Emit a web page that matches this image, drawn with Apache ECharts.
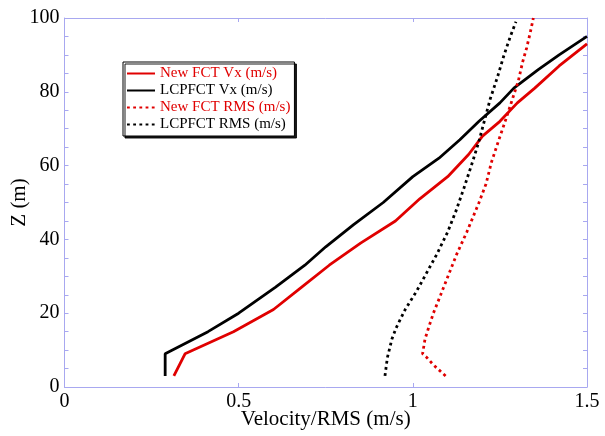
<!DOCTYPE html>
<html>
<head>
<meta charset="utf-8">
<script src="https://cdn.jsdelivr.net/npm/echarts@6/dist/echarts.min.js"></script>
<style>
  html, body { margin: 0; padding: 0; background: #fff; }
  #chart { width: 605px; height: 436px; }
</style>
</head>
<body>
<div id="chart"></div>
<script>
// Vertical profiles: height Z (m) against velocity / RMS (m/s)
const seriesNames = ['New FCT Vx (m/s)', 'LCPFCT Vx (m/s)', 'New FCT RMS (m/s)', 'LCPFCT RMS (m/s)'];

const newFctVxZ = [3, 9, 15, 21, 27, 33, 39, 45, 51, 57, 63, 68, 72, 77, 81, 87, 93];
const newFctVx  = [0.314, 0.346, 0.485, 0.60, 0.68, 0.76, 0.85, 0.95, 1.02, 1.10, 1.16, 1.20, 1.25, 1.30, 1.35, 1.42, 1.50];

const lcpVxZ = [3, 9, 15, 20, 27, 33, 38, 44, 50, 57, 62, 67, 72, 77, 81, 86, 90, 95];
const lcpVx  = [0.289, 0.289, 0.412, 0.50, 0.605, 0.69, 0.75, 0.83, 0.915, 1.00, 1.075, 1.135, 1.19, 1.25, 1.29, 1.36, 1.42, 1.50];

const newFctRmsZ = [3, 6, 8, 9, 13, 16, 20, 25, 31, 36, 42, 50, 55, 61, 67, 72, 76, 83, 88, 92, 96, 100];
const newFctRms  = [1.094, 1.059, 1.04, 1.028, 1.035, 1.045, 1.059, 1.08, 1.105, 1.126, 1.155, 1.19, 1.21, 1.226, 1.247, 1.265, 1.279, 1.303, 1.315, 1.327, 1.337, 1.346];

const lcpRmsZ = [3, 8, 13, 16, 21, 26, 31, 36, 42, 48, 54, 60, 66, 72, 78, 84, 90, 95, 99];
const lcpRms  = [0.92, 0.927, 0.94, 0.952, 0.978, 1.011, 1.04, 1.069, 1.10, 1.125, 1.147, 1.168, 1.188, 1.205, 1.222, 1.243, 1.262, 1.28, 1.296];

const xTicks = [0, 0.5, 1, 1.5];
const yTicks = [0, 20, 40, 60, 80, 100];
const yTickStep = 5;   // small inward ticks every 5 m, labels every 20 m

const RED = '#e00000';
const BLACK = '#000000';
const AXIS = '#a8a8f0';
const FONT = '"Liberation Serif", "Times New Roman", serif';

function pairs(xs, zs) { return xs.map((v, i) => [v, zs[i]]); }

function lineSeries(name, color, dotted, xs, zs) {
  return {
    name: name,
    type: 'line',
    data: pairs(xs, zs),
    showSymbol: false,
    symbol: 'none',
    animation: false,
    lineStyle: { color: color, width: 2.8, type: dotted ? [2.8, 3.4] : 'solid', cap: 'butt' },
    itemStyle: { color: color }
  };
}

const chart = echarts.init(document.getElementById('chart'), null, { renderer: 'canvas' });

const axisLine = { show: true, onZero: false, lineStyle: { color: AXIS, width: 1 } };
const innerTick = { show: true, inside: true, length: 4, lineStyle: { color: AXIS } };

chart.setOption({
  backgroundColor: '#ffffff',
  animation: false,
  grid: { left: 64.5, right: 18, top: 18, bottom: 49, containLabel: false, outerBoundsMode: 'none' },
  legend: {
    orient: 'vertical',
    left: 123,
    top: 62,
    padding: [4, 4, 4, 3],
    itemWidth: 28,
    itemHeight: 14,
    itemGap: 2,
    backgroundColor: '#ffffff',
    borderColor: '#000000',
    borderWidth: 1,
    shadowColor: 'rgba(0,0,0,0.9)',
    shadowBlur: 0,
    shadowOffsetX: 2,
    shadowOffsetY: 2,
    itemStyle: { color: 'rgba(0,0,0,0)', borderWidth: 0, opacity: 0 },
    textStyle: { fontFamily: FONT, fontSize: 15, lineHeight: 14 },
    data: [
      { name: seriesNames[0], textStyle: { color: RED } },
      { name: seriesNames[1], textStyle: { color: BLACK } },
      { name: seriesNames[2], textStyle: { color: RED } },
      { name: seriesNames[3], textStyle: { color: BLACK } }
    ]
  },
  xAxis: [
    {
      type: 'value', position: 'bottom',
      min: xTicks[0], max: xTicks[xTicks.length - 1], interval: 0.5,
      name: 'Velocity/RMS (m/s)', nameLocation: 'middle', nameGap: 22, nameMoveOverlap: false,
      nameTextStyle: { fontFamily: FONT, fontSize: 21, color: '#000', verticalAlign: 'top' },
      axisLine: axisLine, axisTick: innerTick,
      axisLabel: { fontFamily: FONT, fontSize: 20, color: '#000', margin: 5,
                   formatter: v => String(v) },
      splitLine: { show: false }
    },
    {
      type: 'value', position: 'top',
      min: xTicks[0], max: xTicks[xTicks.length - 1], interval: 0.5,
      axisLine: axisLine, axisTick: innerTick,
      axisLabel: { show: false }, splitLine: { show: false }
    }
  ],
  yAxis: [
    {
      type: 'value', position: 'left',
      min: yTicks[0], max: yTicks[yTicks.length - 1], interval: yTickStep,
      name: 'Z (m)', nameLocation: 'middle', nameGap: 35, nameMoveOverlap: false,
      nameTextStyle: { fontFamily: FONT, fontSize: 21, color: '#000' },
      axisLine: axisLine, axisTick: innerTick,
      axisLabel: { fontFamily: FONT, fontSize: 20, color: '#000', margin: 5,
                   formatter: v => (yTicks.indexOf(v) >= 0 ? String(v) : '') },
      splitLine: { show: false }
    },
    {
      type: 'value', position: 'right',
      min: yTicks[0], max: yTicks[yTicks.length - 1], interval: yTickStep,
      axisLine: axisLine, axisTick: innerTick,
      axisLabel: { show: false }, splitLine: { show: false }
    }
  ],
  series: [
    lineSeries(seriesNames[0], RED, false, newFctVx, newFctVxZ),
    lineSeries(seriesNames[1], BLACK, false, lcpVx, lcpVxZ),
    lineSeries(seriesNames[2], RED, true, newFctRms, newFctRmsZ),
    lineSeries(seriesNames[3], BLACK, true, lcpRms, lcpRmsZ)
  ]
});
</script>
</body>
</html>
